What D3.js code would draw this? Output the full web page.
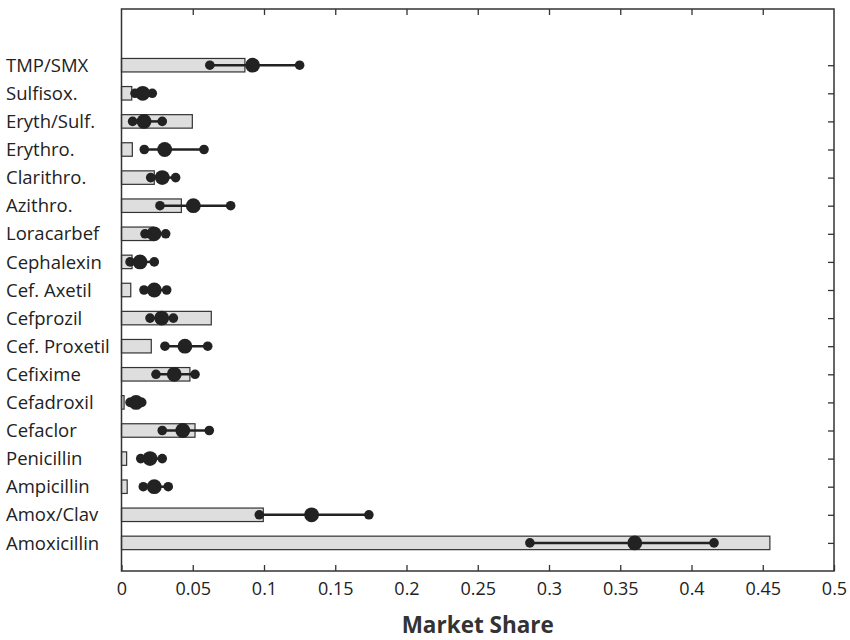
<!DOCTYPE html>
<html>
<head>
<meta charset="utf-8">
<script src="https://cdn.jsdelivr.net/npm/d3@7/dist/d3.min.js"></script>
<style>
  html, body { margin: 0; padding: 0; background: #fff; }
  svg { display: block; font-family: "Open Sans", "DejaVu Sans", sans-serif; }
</style>
</head>
<body>
<svg id="chart" width="850" height="640"></svg>
<script>
// Antibiotics, listed top to bottom
const drugs = ["TMP/SMX", "Sulfisox.", "Eryth/Sulf.", "Erythro.", "Clarithro.", "Azithro.",
  "Loracarbef", "Cephalexin", "Cef. Axetil", "Cefprozil", "Cef. Proxetil", "Cefixime",
  "Cefadroxil", "Cefaclor", "Penicillin", "Ampicillin", "Amox/Clav", "Amoxicillin"];

// Observed market share (bars)
const observed = [0.0866, 0.0072, 0.0497, 0.0076, 0.0230, 0.0420,
  0.0223, 0.0074, 0.0065, 0.0630, 0.0209, 0.0480,
  0.0018, 0.0516, 0.0036, 0.0040, 0.0995, 0.4550];

// Predicted share: lower bound, estimate, upper bound
const predLow = [0.0620, 0.0095, 0.0078, 0.0160, 0.0205, 0.0270,
  0.0165, 0.0060, 0.0158, 0.0200, 0.0305, 0.0242,
  0.0060, 0.0286, 0.0135, 0.0153, 0.0967, 0.2866];
const predMid = [0.0920, 0.0149, 0.0158, 0.0303, 0.0286, 0.0504,
  0.0228, 0.0130, 0.0230, 0.0282, 0.0445, 0.0370,
  0.0102, 0.0430, 0.0200, 0.0230, 0.1334, 0.3602];
const predHigh = [0.1250, 0.0216, 0.0286, 0.0579, 0.0380, 0.0766,
  0.0310, 0.0230, 0.0317, 0.0364, 0.0605, 0.0516,
  0.0142, 0.0616, 0.0286, 0.0328, 0.1736, 0.4158];

const xTicks = [0, 0.05, 0.1, 0.15, 0.2, 0.25, 0.3, 0.35, 0.4, 0.45, 0.5];
const xTitle = "Market Share";

const rows = drugs.map((name, i) => ({
  name,
  pos: drugs.length - i,
  obs: observed[i],
  lo: predLow[i],
  mid: predMid[i],
  hi: predHigh[i]
}));

const plotLeft = 121.5, plotRight = 834, plotTop = 9, plotBottom = 571;
const svg = d3.select("#chart");

const x = d3.scaleLinear().domain([0, 0.5]).range([plotLeft, plotRight]);
const y = d3.scaleLinear().domain([0, 20]).range([plotBottom, plotTop]);
const barH = y(0) - y(0.48);

// Bars: observed share
svg.append("g").selectAll("rect")
  .data(rows).join("rect")
  .attr("x", x(0))
  .attr("y", d => y(d.pos) - barH / 2)
  .attr("width", d => x(d.obs) - x(0))
  .attr("height", barH)
  .attr("fill", "#dedede")
  .attr("stroke", "#333")
  .attr("stroke-width", 1.2);

// Prediction intervals
const pts = svg.append("g");
pts.selectAll("line")
  .data(rows).join("line")
  .attr("x1", d => x(d.lo))
  .attr("x2", d => x(d.hi))
  .attr("y1", d => y(d.pos))
  .attr("y2", d => y(d.pos))
  .attr("stroke", "#222")
  .attr("stroke-width", 2.5);

pts.selectAll("circle.end")
  .data(rows.flatMap(d => [{v: d.lo, pos: d.pos}, {v: d.hi, pos: d.pos}]))
  .join("circle")
  .attr("class", "end")
  .attr("cx", d => x(d.v))
  .attr("cy", d => y(d.pos))
  .attr("r", 4.8)
  .attr("fill", "#222");

pts.selectAll("circle.mid")
  .data(rows).join("circle")
  .attr("class", "mid")
  .attr("cx", d => x(d.mid))
  .attr("cy", d => y(d.pos))
  .attr("r", 7.4)
  .attr("fill", "#222");

// Frame
svg.append("rect")
  .attr("x", plotLeft).attr("y", plotTop)
  .attr("width", plotRight - plotLeft).attr("height", plotBottom - plotTop)
  .attr("fill", "none").attr("stroke", "#333").attr("stroke-width", 1.5);

// Bottom axis with inward ticks
const xAxis = svg.append("g")
  .attr("transform", `translate(0,${plotBottom})`)
  .call(d3.axisBottom(x).tickValues(xTicks).tickFormat(d3.format("")).tickSize(-6).tickPadding(11));
xAxis.select(".domain").remove();
xAxis.selectAll(".tick line").attr("stroke", "#333").attr("stroke-width", 1.3);
xAxis.selectAll(".tick text").attr("font-size", 18).attr("fill", "#222")
  .attr("font-family", "'Open Sans', sans-serif");

// Top axis ticks
const topAxis = svg.append("g")
  .attr("transform", `translate(0,${plotTop})`)
  .call(d3.axisTop(x).tickValues(xTicks.slice(1, -1)).tickFormat("").tickSize(-6));
topAxis.select(".domain").remove();
topAxis.selectAll(".tick line").attr("stroke", "#333").attr("stroke-width", 1.3);

// Right axis ticks at each category
const rightAxis = svg.append("g")
  .attr("transform", `translate(${plotRight},0)`)
  .call(d3.axisRight(y).tickValues(rows.map(d => d.pos)).tickFormat("").tickSize(-6));
rightAxis.select(".domain").remove();
rightAxis.selectAll(".tick line").attr("stroke", "#333").attr("stroke-width", 1.3);

// Category labels
svg.append("g").selectAll("text")
  .data(rows).join("text")
  .attr("x", 6)
  .attr("y", d => y(d.pos))
  .attr("dy", "0.36em")
  .attr("font-size", 18.5)
  .attr("fill", "#222")
  .text(d => d.name);

// Axis title
svg.append("text")
  .attr("x", (plotLeft + plotRight) / 2)
  .attr("y", 633)
  .attr("text-anchor", "middle")
  .attr("font-size", 22.5)
  .attr("font-weight", "bold")
  .attr("fill", "#333")
  .text(xTitle);
</script>
</body>
</html>
